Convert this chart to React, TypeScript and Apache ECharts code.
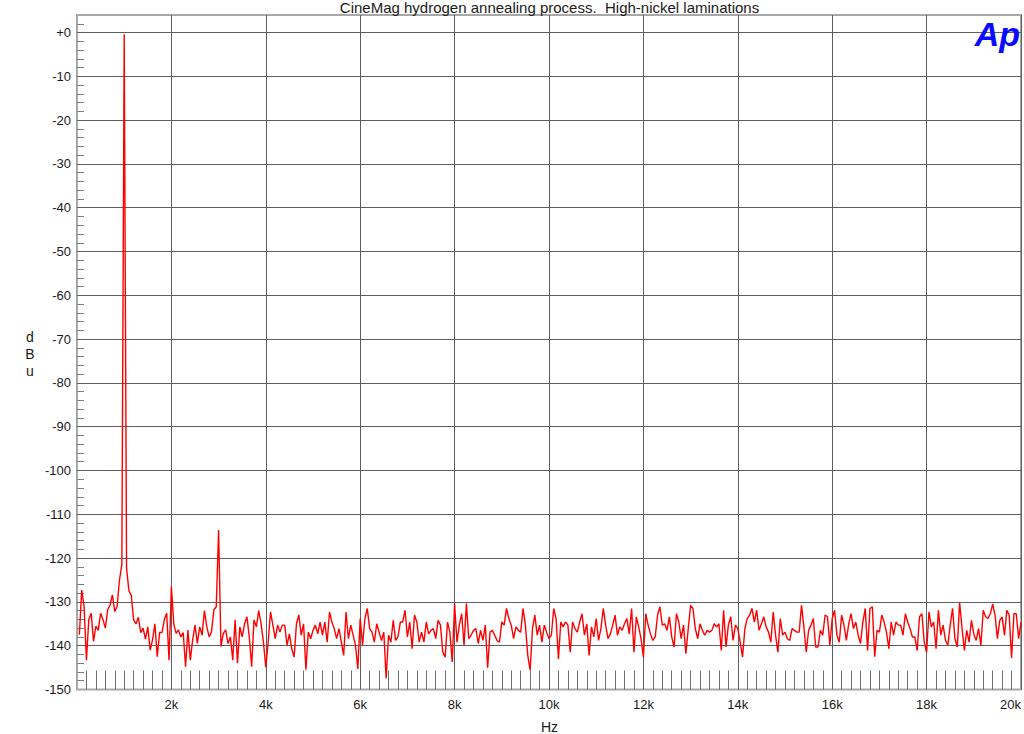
import React, { useEffect, useRef } from "react";
import * as echarts from "echarts";

const TITLE = "CineMag hydrogen annealing process.  High-nickel laminations";
const X_NAME = "Hz";
const Y_NAME = "d\nB\nu";
const LOGO = "Ap";

// FFT bins: 50 Hz spacing, first bin at 50 Hz
const BIN_START_HZ = 50;
const BIN_STEP_HZ = 50;

// level in dBu, 50 Hz .. 3.85 kHz
const band1 = [
  -137.5, -127.3, -131, -143.3, -134, -132.6, -139, -135.5, -136.5, -132.6,
  -134, -136, -131.8, -130.7, -128.4, -132.2, -131, -125, -121.5, -0.4,
  -122.3, -127.5, -128.5, -134.1, -135, -133.5, -137, -136, -138.5, -135.7,
  -141, -138.7, -135, -142.5, -137, -137, -134.1, -132.6, -143.3, -126.5,
  -135, -137.2, -136.4, -138, -137, -144.8, -136.4, -143.3, -138.7, -135.3,
  -139.5, -135.7, -137.6, -132, -135.7, -138, -136.8, -131.8, -131.1, -113.6,
  -140.2, -137.2, -136.4, -139.5, -138, -143.3, -134.1, -144, -135.7, -138,
  -135, -133.4, -138, -144.8, -134.1, -135.7, -132,
];
// 3.9 kHz .. 6.7 kHz
const band2 = [
  -135, -139.2, -144.9, -139.2, -132.3, -135.3, -138.4, -135.3, -136.9, -135.3,
  -135.3, -139.9, -137.3, -140.7, -142.6, -135, -133, -137.6, -135, -145.5,
  -136.9, -138.4, -136.5, -135.3, -137.3, -134.6, -137.6, -134.6, -139.2, -132.3,
  -134.6, -136.1, -138.4, -136.1, -139.2, -142.2, -132.3, -138.4, -135.3, -137.6,
  -139.9, -145.3, -133.8, -139.9, -133.8, -131.5, -136.1, -136.9, -139.2, -135,
  -136.9, -138.8, -136.9, -147.5, -137.6, -139.2, -134.2,
];
// 6.75 kHz .. 10 kHz
const band3 = [
  -138.8, -138, -134.6, -134.6, -131.9, -138, -134.6, -140.7, -133, -134.6,
  -139.2, -136.9, -139.2, -134.6, -137.3, -136.5, -136.1, -138.4, -134.2, -135.3,
  -141.5, -142.6, -134.6, -136.9, -143.7, -130.5, -139.2, -135.3, -132.7, -139.9,
  -130.4, -138.4, -137.6, -136.5, -136.1, -139.5, -136.5, -138.8, -135.3, -145,
  -136.9, -136.5, -137.6, -138.8, -139.2, -134.6, -135.3, -131.5, -133.8, -135.3,
  -138.4, -135.7, -136.5, -136.9, -131.5, -135.3, -142.2, -145.6, -136.1, -133,
  -137.6, -135.3, -139.2, -135.3, -136.9, -138.4,
];
// 10.05 kHz .. 13.35 kHz
const band4 = [
  -137.6, -131.5, -133.8, -143, -134.6, -135.7, -134.6, -135.3, -141.5, -134.6,
  -136.1, -136.9, -134.6, -132.7, -137.6, -135, -142.2, -135.7, -138, -133.8,
  -138.8, -136.1, -131.5, -135.3, -138.4, -137.3, -135.3, -133, -137.6, -135.7,
  -136.5, -135, -133.8, -137.3, -131.5, -141.5, -133.4, -135.7, -138.4, -142.6,
  -132.7, -135.3, -137.3, -138.8, -138, -133, -131.1, -135.3, -135, -136.5,
  -133.4, -138, -140.3, -132.7, -134.6, -138.4, -135.3, -141.8, -136.1, -130.8,
  -131.5, -136.1, -138.4, -135, -136.5, -137.6, -136.5,
];
// 13.4 kHz .. 16.7 kHz
const band5 = [
  -136.9, -136.5, -135, -135.7, -135, -141.1, -131.9, -140.3, -135.3, -133.4,
  -138.8, -135.3, -136.1, -139.2, -142.6, -136.1, -133.8, -133, -131.5, -134.6,
  -131.9, -136.5, -135, -133.4, -135.7, -136.9, -139.2, -132.3, -137.6, -141.5,
  -133.8, -137.6, -136.9, -138.4, -138.8, -136.1, -136.5, -136.9, -136.9, -130.8,
  -135.7, -141.5, -136.5, -135.3, -133.8, -140.3, -140.3, -136.5, -137.6, -133,
  -133.4, -139.9, -133.8, -131.9, -137.6, -139.2, -133, -135.3, -138.8, -135,
  -132.7, -136.1, -134.6, -137.6, -139.5, -134.6, -131.5,
];
// 16.75 kHz .. 20 kHz
const band6 = [
  -141.1, -131.5, -131.1, -142.5, -136.5, -136.9, -133, -134.6, -136.9, -140.7,
  -134.6, -137.6, -134.6, -135.3, -135.3, -137.6, -132.7, -134.6, -136.1, -138,
  -138, -141.1, -133.4, -132.7, -139.2, -141.5, -132.3, -135.7, -134.6, -140.7,
  -131.9, -137.6, -135.3, -138.8, -139.9, -135.3, -131.5, -138.4, -140.3, -130.2,
  -136, -141.1, -136.5, -139.2, -134.2, -137.3, -138.8, -136.1, -139.9, -131.9,
  -133.4, -133.8, -132.7, -130.5, -133, -138.4, -134.2, -133.4, -137.6, -131.9,
  -133, -142.8, -132.7, -132.7, -138.4, -134.6,
];

const levels = [...band1, ...band2, ...band3, ...band4, ...band5, ...band6];

const X_MIN = 0;
const X_MAX = 20000;
const X_STEP = 2000;
const Y_MIN = -150;
const Y_MAX = 4;
const Y_STEP = 10;

const FONT = '"Liberation Sans", Arial, Helvetica, sans-serif';

export default function App() {
  const ref = useRef<HTMLDivElement>(null);

  useEffect(() => {
    if (!ref.current) return;
    const chart = echarts.init(ref.current, undefined, { renderer: "svg" });
    const points = levels.map((v, i) => [BIN_START_HZ + i * BIN_STEP_HZ, v]);

    chart.setOption({
      animation: false,
      backgroundColor: "#ffffff",
      textStyle: { fontFamily: FONT },
      grid: {
        left: 77,
        right: 1.5,
        top: 15,
        bottom: 44.5,
        show: true,
        borderColor: "#a8a8a8",
        borderWidth: 2,
        backgroundColor: "transparent",
      },
      xAxis: {
        type: "value",
        min: X_MIN,
        max: X_MAX,
        interval: X_STEP,
        axisLine: { show: false, onZero: false },
        axisTick: { show: false, inside: true },
        minorTick: {
          show: true,
          splitNumber: 10,
          length: 19,
          lineStyle: { color: "#6e6e6e", width: 1 },
        },
        splitLine: {
          show: true,
          showMinLine: false,
          lineStyle: { color: "#5e5e5e", width: 1 },
        },
        axisLabel: {
          formatter: (v: number) => (v === 0 ? "" : v / 1000 + "k"),
          color: "#1a1a1a",
          fontSize: 13,
          margin: 8,
          alignMaxLabel: "right",
          fontFamily: FONT,
        },
      },
      yAxis: {
        type: "value",
        min: Y_MIN,
        max: Y_MAX,
        interval: Y_STEP,
        axisLine: { show: false, onZero: false },
        axisTick: { show: false, inside: true },
        minorTick: {
          show: true,
          splitNumber: 5,
          length: 7,
          lineStyle: { color: "#7a7a7a", width: 1 },
        },
        splitLine: {
          show: true,
          showMinLine: false,
          showMaxLine: false,
          lineStyle: { color: "#5e5e5e", width: 1 },
        },
        axisLabel: {
          formatter: (v: number) =>
            v === 0 ? "+0" : Math.abs(v % 10) < 1e-9 ? String(v) : "",
          color: "#1a1a1a",
          fontSize: 13,
          margin: 6,
          fontFamily: FONT,
        },
      },
      graphic: [
        {
          type: "text",
          x: 549.5,
          y: 7,
          style: {
            text: TITLE,
            fontSize: 15,
            fontFamily: FONT,
            fill: "#1a1a1a",
            textAlign: "center",
            textVerticalAlign: "middle",
          },
        },
        {
          type: "text",
          x: 549.5,
          y: 727,
          style: {
            text: X_NAME,
            fontSize: 14,
            fontFamily: FONT,
            fill: "#1a1a1a",
            textAlign: "center",
            textVerticalAlign: "middle",
          },
        },
        {
          type: "text",
          x: 30,
          y: 354,
          style: {
            text: Y_NAME,
            fontSize: 14,
            lineHeight: 17,
            fontFamily: FONT,
            fill: "#1a1a1a",
            textAlign: "center",
            textVerticalAlign: "middle",
          },
        },
        {
          type: "text",
          x: 1020,
          y: 17,
          z: 100,
          style: {
            text: LOGO,
            fontSize: 34,
            fontWeight: "bold",
            fontStyle: "italic",
            fontFamily: FONT,
            fill: "#0a0aff",
            textAlign: "right",
            textVerticalAlign: "top",
          },
        },
      ],
      series: [
        {
          type: "line",
          data: points,
          showSymbol: false,
          symbol: "none",
          silent: true,
          lineStyle: { color: "#ff0000", width: 1.4 },
        },
      ],
    });

    return () => chart.dispose();
  }, []);

  return (
    <div
      ref={ref}
      style={{ position: "fixed", left: 0, top: 0, width: 1024, height: 734 }}
    />
  );
}
